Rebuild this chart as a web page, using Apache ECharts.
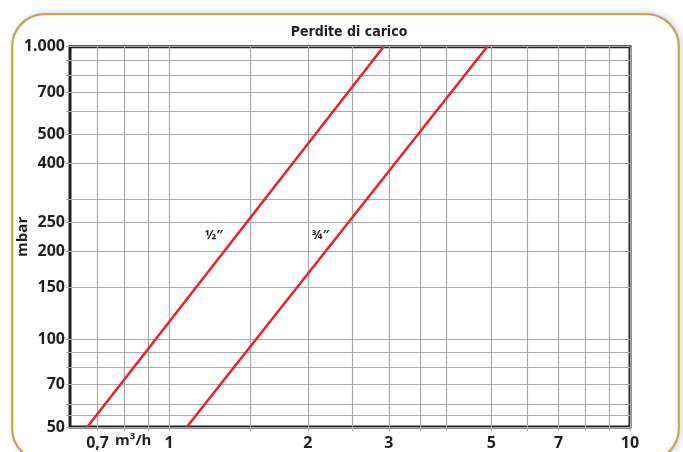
<!DOCTYPE html>
<html>
<head>
<meta charset="utf-8">
<script src="https://cdn.jsdelivr.net/npm/echarts@6/dist/echarts.min.js"></script>
<style>
html,body{margin:0;padding:0;background:#fff;}
#chart{width:683px;height:452px;}
</style>
</head>
<body>
<div id="chart"></div>
<script>
// ---- data ----
const xGridValues = [0.7, 0.8, 0.9, 1, 1.5, 2, 2.5, 3, 3.5, 4, 5, 6, 7, 8, 9, 10];
const xLabelValues = [0.7, 1, 2, 3, 5, 7, 10];
const yGridValues = [50, 55, 60, 70, 80, 90, 100, 150, 200, 250, 300, 400, 500, 600, 700, 800, 900, 1000];
const yLabelValues = [50, 70, 100, 150, 200, 250, 400, 500, 700, 1000];

const halfInchFlow = [0.665, 2.92];
const halfInchLoss = [50, 1000];
const threeQuarterFlow = [1.093, 4.9];
const threeQuarterLoss = [50, 1000];

const seriesNames = ['½″', '¾″'];
const seriesLabelFlow = [1.252, 2.131];
const seriesLabelLoss = [227, 227];

const chartTitle = 'Perdite di carico';
const yAxisName = 'mbar';
const xAxisUnit = 'm³/h';

// ---- chart ----
const FONT = '"Open Sans", "Liberation Sans", sans-serif';
const NARROW = '"DejaVu Sans Condensed", "Open Sans", sans-serif';
const RED = '#e5212b';
const GRID = '#a9a9a9';

function round(v) { return Math.round(v * 1000) / 1000; }
function fmtX(v) { return String(round(v)).replace('.', ','); }
function fmtY(v) {
  v = Math.round(v);
  return v >= 1000 ? (Math.floor(v / 1000) + '.' + String(v % 1000).padStart(3, '0')) : String(v);
}

const chart = echarts.init(document.getElementById('chart'));

function pairs(xs, ys) { return xs.map((x, i) => [x, ys[i]]); }

const option = {
  backgroundColor: '#ffffff',
  animation: false,
  title: {
    text: chartTitle,
    left: 344, top: 20,
    textAlign: 'center',
    textStyle: { fontFamily: NARROW, fontWeight: 'bold', fontSize: 14, color: '#231f20' }
  },
  graphic: [
    {
      type: 'rect', silent: true, z: -10,
      shape: { x: 12.5, y: 14.5, width: 666, height: 446, r: 32 },
      style: { fill: 'none', stroke: '#b3a6cf', lineWidth: 3, shadowBlur: 6, shadowColor: 'rgba(0,0,0,0.25)', shadowOffsetX: 2 }
    },
    {
      type: 'rect', silent: true, z: -9,
      shape: { x: 12.5, y: 14.5, width: 666, height: 446, r: 32 },
      style: { fill: '#fff', stroke: '#c9a33a', lineWidth: 1.5 }
    },
    {
      type: 'text', left: 115, top: 433, silent: true,
      style: { text: xAxisUnit, fontFamily: FONT, fontWeight: 'bold', fontSize: 15, fill: '#231f20' }
    }
  ],
  grid: {
    left: 70, right: 53, top: 46.7, bottom: 25,
    containLabel: false, outerBoundsMode: 'none',
    show: true, borderColor: '#231f20', borderWidth: 3, backgroundColor: 'transparent'
  },
  xAxis: {
    type: 'log', logBase: 10, min: 0.61, max: 10,
    axisLine: { show: false },
    axisTick: { show: true, customValues: xGridValues, length: 4, lineStyle: { color: GRID, width: 1 } },
    axisLabel: {
      customValues: xLabelValues, formatter: fmtX, margin: 8,
      fontFamily: FONT, fontWeight: 'bold', fontSize: 16, color: '#231f20'
    },
    splitLine: { show: true, lineStyle: { color: GRID, width: 1.2 } },
    minorSplitLine: { show: false }
  },
  yAxis: {
    type: 'log', logBase: 10, min: 50, max: 1000,
    name: yAxisName, nameLocation: 'middle', nameRotate: 90, nameGap: 40, nameMoveOverlap: false,
    nameTextStyle: { fontFamily: FONT, fontWeight: 'bold', fontSize: 15, color: '#231f20' },
    axisLine: { show: false },
    axisTick: { show: true, customValues: yGridValues, length: 4, lineStyle: { color: GRID, width: 1 } },
    axisLabel: {
      customValues: yLabelValues, formatter: fmtY, margin: 5,
      fontFamily: FONT, fontWeight: 'bold', fontSize: 16, color: '#231f20'
    },
    splitLine: { show: true, lineStyle: { color: GRID, width: 1.2 } }
  },
  series: [
    {
      name: seriesNames[0], type: 'line', data: pairs(halfInchFlow, halfInchLoss),
      symbol: 'none', lineStyle: { color: RED, width: 2.5 }, z: 5,
      markPoint: {
        symbol: 'circle', symbolSize: 0,
        label: { show: true, position: 'inside', formatter: seriesNames[0], fontFamily: FONT, fontWeight: 'bold', fontSize: 13, color: '#231f20' },
        data: [{ coord: [seriesLabelFlow[0], seriesLabelLoss[0]] }]
      }
    },
    {
      name: seriesNames[1], type: 'line', data: pairs(threeQuarterFlow, threeQuarterLoss),
      symbol: 'none', lineStyle: { color: RED, width: 2.5 }, z: 5,
      markPoint: {
        symbol: 'circle', symbolSize: 0,
        label: { show: true, position: 'inside', formatter: seriesNames[1], fontFamily: FONT, fontWeight: 'bold', fontSize: 13, color: '#231f20' },
        data: [{ coord: [seriesLabelFlow[1], seriesLabelLoss[1]] }]
      }
    }
  ]
};
chart.setOption(option);
</script>
</body>
</html>
